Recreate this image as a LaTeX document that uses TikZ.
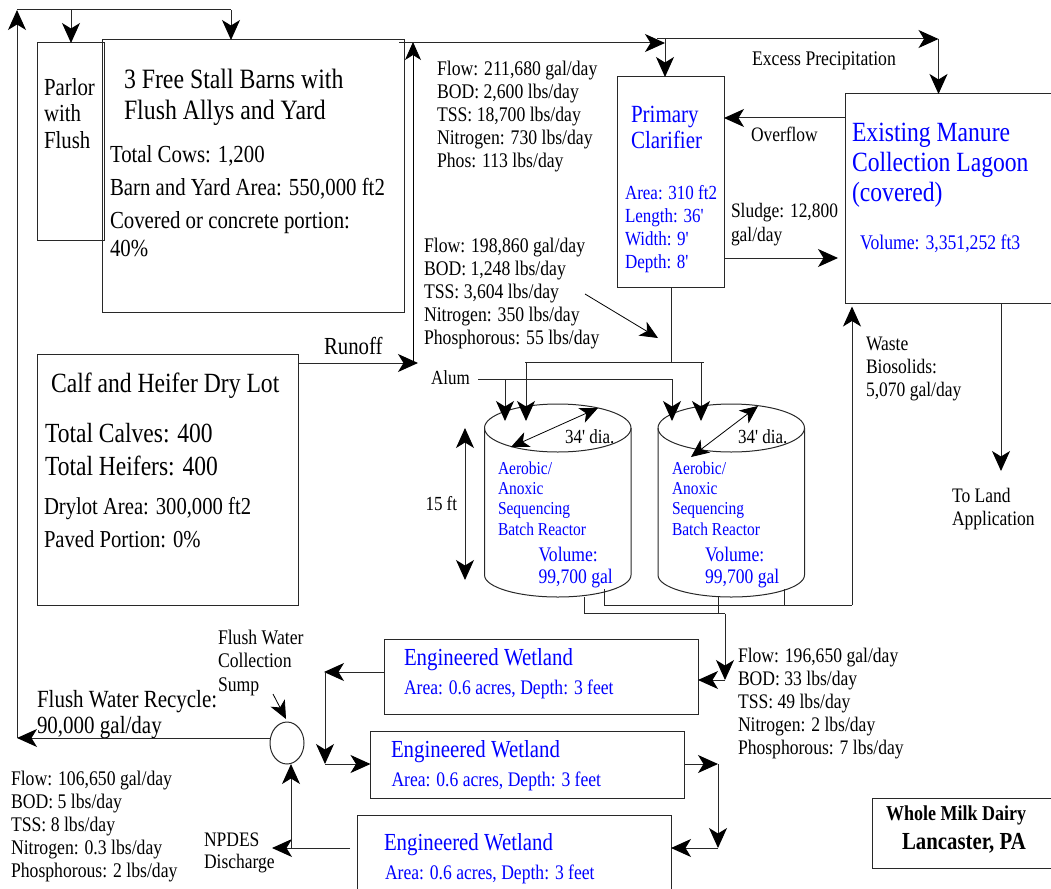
\documentclass[tikz,border=0pt]{standalone}
\usepackage{fontspec}
\setmainfont[FakeStretch=0.85,Ligatures=TeXOff]{Liberation Serif}
\usetikzlibrary{arrows.meta,shapes.geometric}
\definecolor{ink}{RGB}{40,40,40}
\definecolor{bluetxt}{RGB}{0,0,255}
\newcommand{\fs}[2]{\fontsize{#1pt}{#2pt}\selectfont}
\tikzset{
  x=1pt,y=-1pt,
  box/.style={draw=ink,line width=1pt,inner sep=0pt,outer sep=0pt,anchor=north west},
  lbl/.style={anchor=base west,inner sep=0pt,outer sep=0pt,align=left,text=black},
  blu/.style={lbl,text=bluetxt},
  wire/.style={draw=ink,line width=1pt},
  bighead/.tip={Stealth[length=20pt,width=18pt,inset=5.5pt,color=black]},
  smallhead/.tip={Stealth[length=18pt,width=16pt,inset=5pt,color=black]},
  flow/.style={wire,-bighead},
  twoway/.style={wire,bighead-bighead},
  thin flow/.style={draw=black,line width=0.8pt,-smallhead},
  thin way/.style={draw=black,line width=0.8pt,smallhead-smallhead},
}
\begin{document}
\begin{tikzpicture}
\useasboundingbox (0,0) rectangle (1051,888);
% boxes
\node[box,minimum width=67pt,minimum height=197pt] (parlorbox) at (37,43) {};
\node[box,minimum width=301.5pt,minimum height=272pt] (barnbox) at (102.5,40) {};
\node[box,minimum width=261pt,minimum height=251pt] (drybox) at (37,354) {};
\node[box,minimum width=106.5pt,minimum height=210pt] (clarbox) at (617.5,77) {};
\node[box,minimum width=215pt,minimum height=209pt] (lagbox) at (845,94) {};
\node[box,minimum width=314pt,minimum height=75pt] (wl1) at (384,639) {};
\node[box,minimum width=314pt,minimum height=67pt] (wl2) at (370.5,731) {};
\node[box,minimum width=314pt,minimum height=90pt] (wl3) at (357,815) {};
\node[box,minimum width=190pt,minimum height=70pt] (whole) at (872,798) {};
\node[draw=ink,line width=1pt,ellipse,minimum width=34pt,minimum height=42pt,inner sep=0pt,outer sep=0pt] (sump) at (287,743) {};
% tanks
\foreach \l/\r/\n in {484.5/631/a,658/804.5/b}{
  \pgfmathsetmacro{\cx}{(\l+\r)/2}
  \pgfmathsetmacro{\rx}{(\r-\l)/2}
  \draw[wire] (\cx,428) ellipse [x radius=\rx,y radius=24];
  \draw[wire] (\l,428) -- (\l,575) arc[start angle=180,end angle=360,x radius=\rx,y radius=-22] -- (\r,428);
}
% texts (each anchored at the baseline of its last line)
\node[lbl,font=\fs{24.5}{26.5}] (parlor) at (44,148) {Parlor\\with\\Flush};
\node[lbl,font=\fs{28}{31}] (barn) at (124,120) {3 Free Stall Barns with\\Flush Allys and Yard};
\node[lbl,font=\fs{24.5}{33}] (cows) at (110,228) {Total Cows: 1,200\\Barn and Yard Area: 550,000 ft2\\Covered or concrete portion:};
\node[lbl,font=\fs{24.5}{28}] (pct) at (110,256) {40\%};
\node[lbl,font=\fs{27.8}{30}] (calf) at (51,392) {Calf and Heifer Dry Lot};
\node[lbl,font=\fs{27.7}{33}] (calves) at (45,475) {Total Calves: 400\\Total Heifers: 400};
\node[lbl,font=\fs{24.3}{33}] (dry) at (44,547) {Drylot Area: 300,000 ft2\\Paved Portion: 0\%};
\node[lbl,font=\fs{24.5}{27}] (runoff) at (324,354) {Runoff};
\node[lbl,font=\fs{20.8}{23}] (d1) at (437,167) {Flow: 211,680 gal/day\\BOD: 2,600 lbs/day\\TSS: 18,700 lbs/day\\Nitrogen: 730 lbs/day\\Phos: 113 lbs/day};
\node[lbl,font=\fs{20.8}{23}] (d2) at (424,344) {Flow: 198,860 gal/day\\BOD: 1,248 lbs/day\\TSS: 3,604 lbs/day\\Nitrogen: 350 lbs/day\\Phosphorous: 55 lbs/day};
\node[lbl,font=\fs{20.8}{23}] (excess) at (752,66) {Excess Precipitation};
\node[blu,font=\fs{24.7}{26}] (prim) at (631,148) {Primary\\Clarifier};
\node[blu,font=\fs{20}{23}] (area) at (625,268) {Area: 310 ft2\\Length: 36'\\Width: 9'\\Depth: 8'};
\node[lbl,font=\fs{20.5}{23}] (over) at (751,141) {Overflow};
\node[lbl,font=\fs{20.5}{24}] (sludge) at (731,241) {Sludge: 12,800\\gal/day};
\node[blu,font=\fs{27.8}{30}] (lag) at (852,201) {Existing Manure\\Collection Lagoon\\(covered)};
\node[blu,font=\fs{20.8}{23}] (vol) at (860,249) {Volume: 3,351,252 ft3};
\node[lbl,font=\fs{20}{23}] (alum) at (431,384) {Alum};
\node[lbl,font=\fs{20}{23}] (dia1) at (565,443) {34' dia.};
\node[lbl,font=\fs{20}{23}] (dia2) at (738,443) {34' dia.};
\node[lbl,font=\fs{20}{23}] (ft) at (425.5,510) {15 ft};
\node[blu,font=\fs{18.2}{20.3}] (t1) at (498,535) {Aerobic/\\Anoxic\\Sequencing\\Batch Reactor};
\node[blu,font=\fs{18.2}{20.3}] (t2) at (672,535) {Aerobic/\\Anoxic\\Sequencing\\Batch Reactor};
\node[blu,font=\fs{20.7}{22}] (v1) at (538.5,583) {Volume:\\99,700 gal};
\node[blu,font=\fs{20.7}{22}] (v2) at (705,583) {Volume:\\99,700 gal};
\node[lbl,font=\fs{20.6}{23}] (waste) at (866,396) {Waste\\Biosolids:\\5,070 gal/day};
\node[lbl,font=\fs{20.6}{23}] (land) at (952,525) {To Land\\Application};
\node[lbl,font=\fs{20.7}{23}] (d3) at (738,754) {Flow: 196,650 gal/day\\BOD: 33 lbs/day\\TSS: 49 lbs/day\\Nitrogen: 2 lbs/day\\Phosphorous: 7 lbs/day};
\foreach \n/\x/\y/\xx in {w1/404/665/404,w2/391/757/391.5,w3/384/850/385}{
  \pgfmathsetmacro{\yy}{\y+29.5}
  \node[blu,font=\fs{24.5}{27}] (\n) at (\x,\y) {Engineered Wetland};
  \node[blu,font=\fs{20.7}{23}] (\n a) at (\xx,\yy) {Area: 0.6 acres, Depth: 3 feet};
}
\node[lbl,font=\fs{20.8}{23.5}] (fw) at (218,691) {Flush Water\\Collection\\Sump};
\node[lbl,font=\fs{24.7}{26}] (fr) at (37,733) {Flush Water Recycle:\\90,000 gal/day};
\node[lbl,font=\fs{20.8}{22.8}] (d4) at (11,877) {Flow: 106,650 gal/day\\BOD: 5 lbs/day\\TSS: 8 lbs/day\\Nitrogen: 0.3 lbs/day\\Phosphorous: 2 lbs/day};
\node[lbl,font=\fs{20.6}{22}] (npdes) at (204,868) {NPDES\\Discharge};
\node[lbl,font=\bfseries\fs{21.2}{23}] (wm) at (886,820) {Whole Milk Dairy};
\node[lbl,font=\bfseries\fs{24.5}{26}] (lanc) at (902,849) {Lancaster, PA};
% junctions
\coordinate (topL) at (17,10);
\coordinate (topR) at (231,10);
\coordinate (topP) at (71,10);
\coordinate (recyc) at (17,738);
\coordinate (roE) at (418,363);
\coordinate (roV) at (413,363);
\coordinate (roT) at (413,42);
\coordinate (hS) at (399,43);
\coordinate (hE) at (665,43);
\coordinate (h2S) at (657,39);
\coordinate (h2M) at (665,39);
\coordinate (h2E) at (938.5,39);
\coordinate (ovf) at (845,118);
\coordinate (slu) at (724,258);
\coordinate (sluE) at (838,258);
\coordinate (ptrS) at (585,294);
\coordinate (ptrE) at (658,338);
\coordinate (mid) at (671,362);
\coordinate (mL) at (525,362);
\coordinate (mR) at (704,362);
\coordinate (aS) at (478,379);
\coordinate (aR) at (672,379);
\coordinate (aL) at (505,379);
\coordinate (ta) at (505,421);
\coordinate (tb) at (526,421);
\coordinate (tc) at (672,421);
\coordinate (td) at (701,421);
\coordinate (col1) at (584,597);
\coordinate (col1b) at (584,613.5);
\coordinate (col2) at (725,613.5);
\coordinate (wlIn) at (725,680);
\coordinate (bio1) at (604,589);
\coordinate (bio1b) at (604,605);
\coordinate (bioE) at (852,605);
\coordinate (bioT) at (852,306.5);
\coordinate (c3) at (718,597);
\coordinate (c3b) at (718,613.5);
\coordinate (c4) at (784.5,589);
\coordinate (c4b) at (784.5,605);
\coordinate (jL) at (325,672);
\coordinate (jLt) at (324,672);
\coordinate (jLb) at (325,764);
\coordinate (jR) at (718,764);
\coordinate (jRb) at (718,848);
\coordinate (npS) at (350,848);
\coordinate (npE) at (272,848);
\coordinate (npM) at (291,848);
% connectors
\draw[flow] (sump.west |- recyc) -- (recyc);
\draw[flow] (recyc) -- (topL);
\draw[wire] (topL) -- (topR);
\draw[flow] (topP) -- (topP |- parlorbox.north);
\draw[flow] (topR) -- (topR |- barnbox.north);
\draw[flow] (drybox.east |- roE) -- (roE);
\draw[thin flow] (roV) -- (roT);
\draw[flow] (hS) -- (hE);
\draw[flow] (h2M) -- (h2M |- clarbox.north);
\draw[flow] (h2S) -- (h2E);
\draw[flow] (h2E) -- (h2E |- lagbox.north);
\draw[flow] (ovf) -- (clarbox.east |- ovf);
\draw[flow] (slu) -- (sluE);
\draw[thin flow] (ptrS) -- (ptrE);
\draw[wire] (mid |- clarbox.south) -- (mid);
\draw[wire] (mL) -- (mR);
\draw[flow] (mL -| tb) -- (tb);
\draw[flow] (mR -| td) -- (td);
\draw[wire] (aS) -- (aR);
\draw[flow] (aL) -- (ta);
\draw[flow] (aR) -- (tc);
\coordinate (da1) at (598,408); \coordinate (db1) at (511,447);
\coordinate (da2) at (758,406); \coordinate (db2) at (691,457);
\draw[thin way] (da1) -- (db1);
\draw[thin way] (da2) -- (db2);
\coordinate (hA) at (465,428); \coordinate (hB) at (465,580);
\draw[twoway] (hA) -- (hB);
\draw[wire] (col1) -- (col1b) -- (col2);
\draw[flow] (col2) -- (wlIn);
\draw[flow] (wlIn) -- (wl1.east |- wlIn);
\draw[wire] (bio1) -- (bio1b) -- (bioE);
\draw[wire] (c3) -- (c3b);
\draw[wire] (c4) -- (c4b);
\draw[flow] (bioE) -- (bioT);
\coordinate (lagOut) at (1001,303); \coordinate (landT) at (1001,471);
\draw[flow] (lagOut) -- (landT);
\draw[flow] (wl1.west |- jL) -- (jLt);
\draw[flow] (jL) -- (jLb);
\draw[flow] (jLb) -- (wl2.west |- jLb);
\draw[flow] (wl2.east |- jR) -- (jR);
\draw[flow] (jR) -- (jRb);
\draw[flow] (jRb) -- (wl3.east |- jRb);
\draw[flow] (npS) -- (npE);
\draw[flow] (npM) -- (npM |- sump.south);
\coordinate (spS) at (273,694); \coordinate (spE) at (286,719);
\draw[thin flow] (spS) -- (spE);
\end{tikzpicture}
\end{document}
